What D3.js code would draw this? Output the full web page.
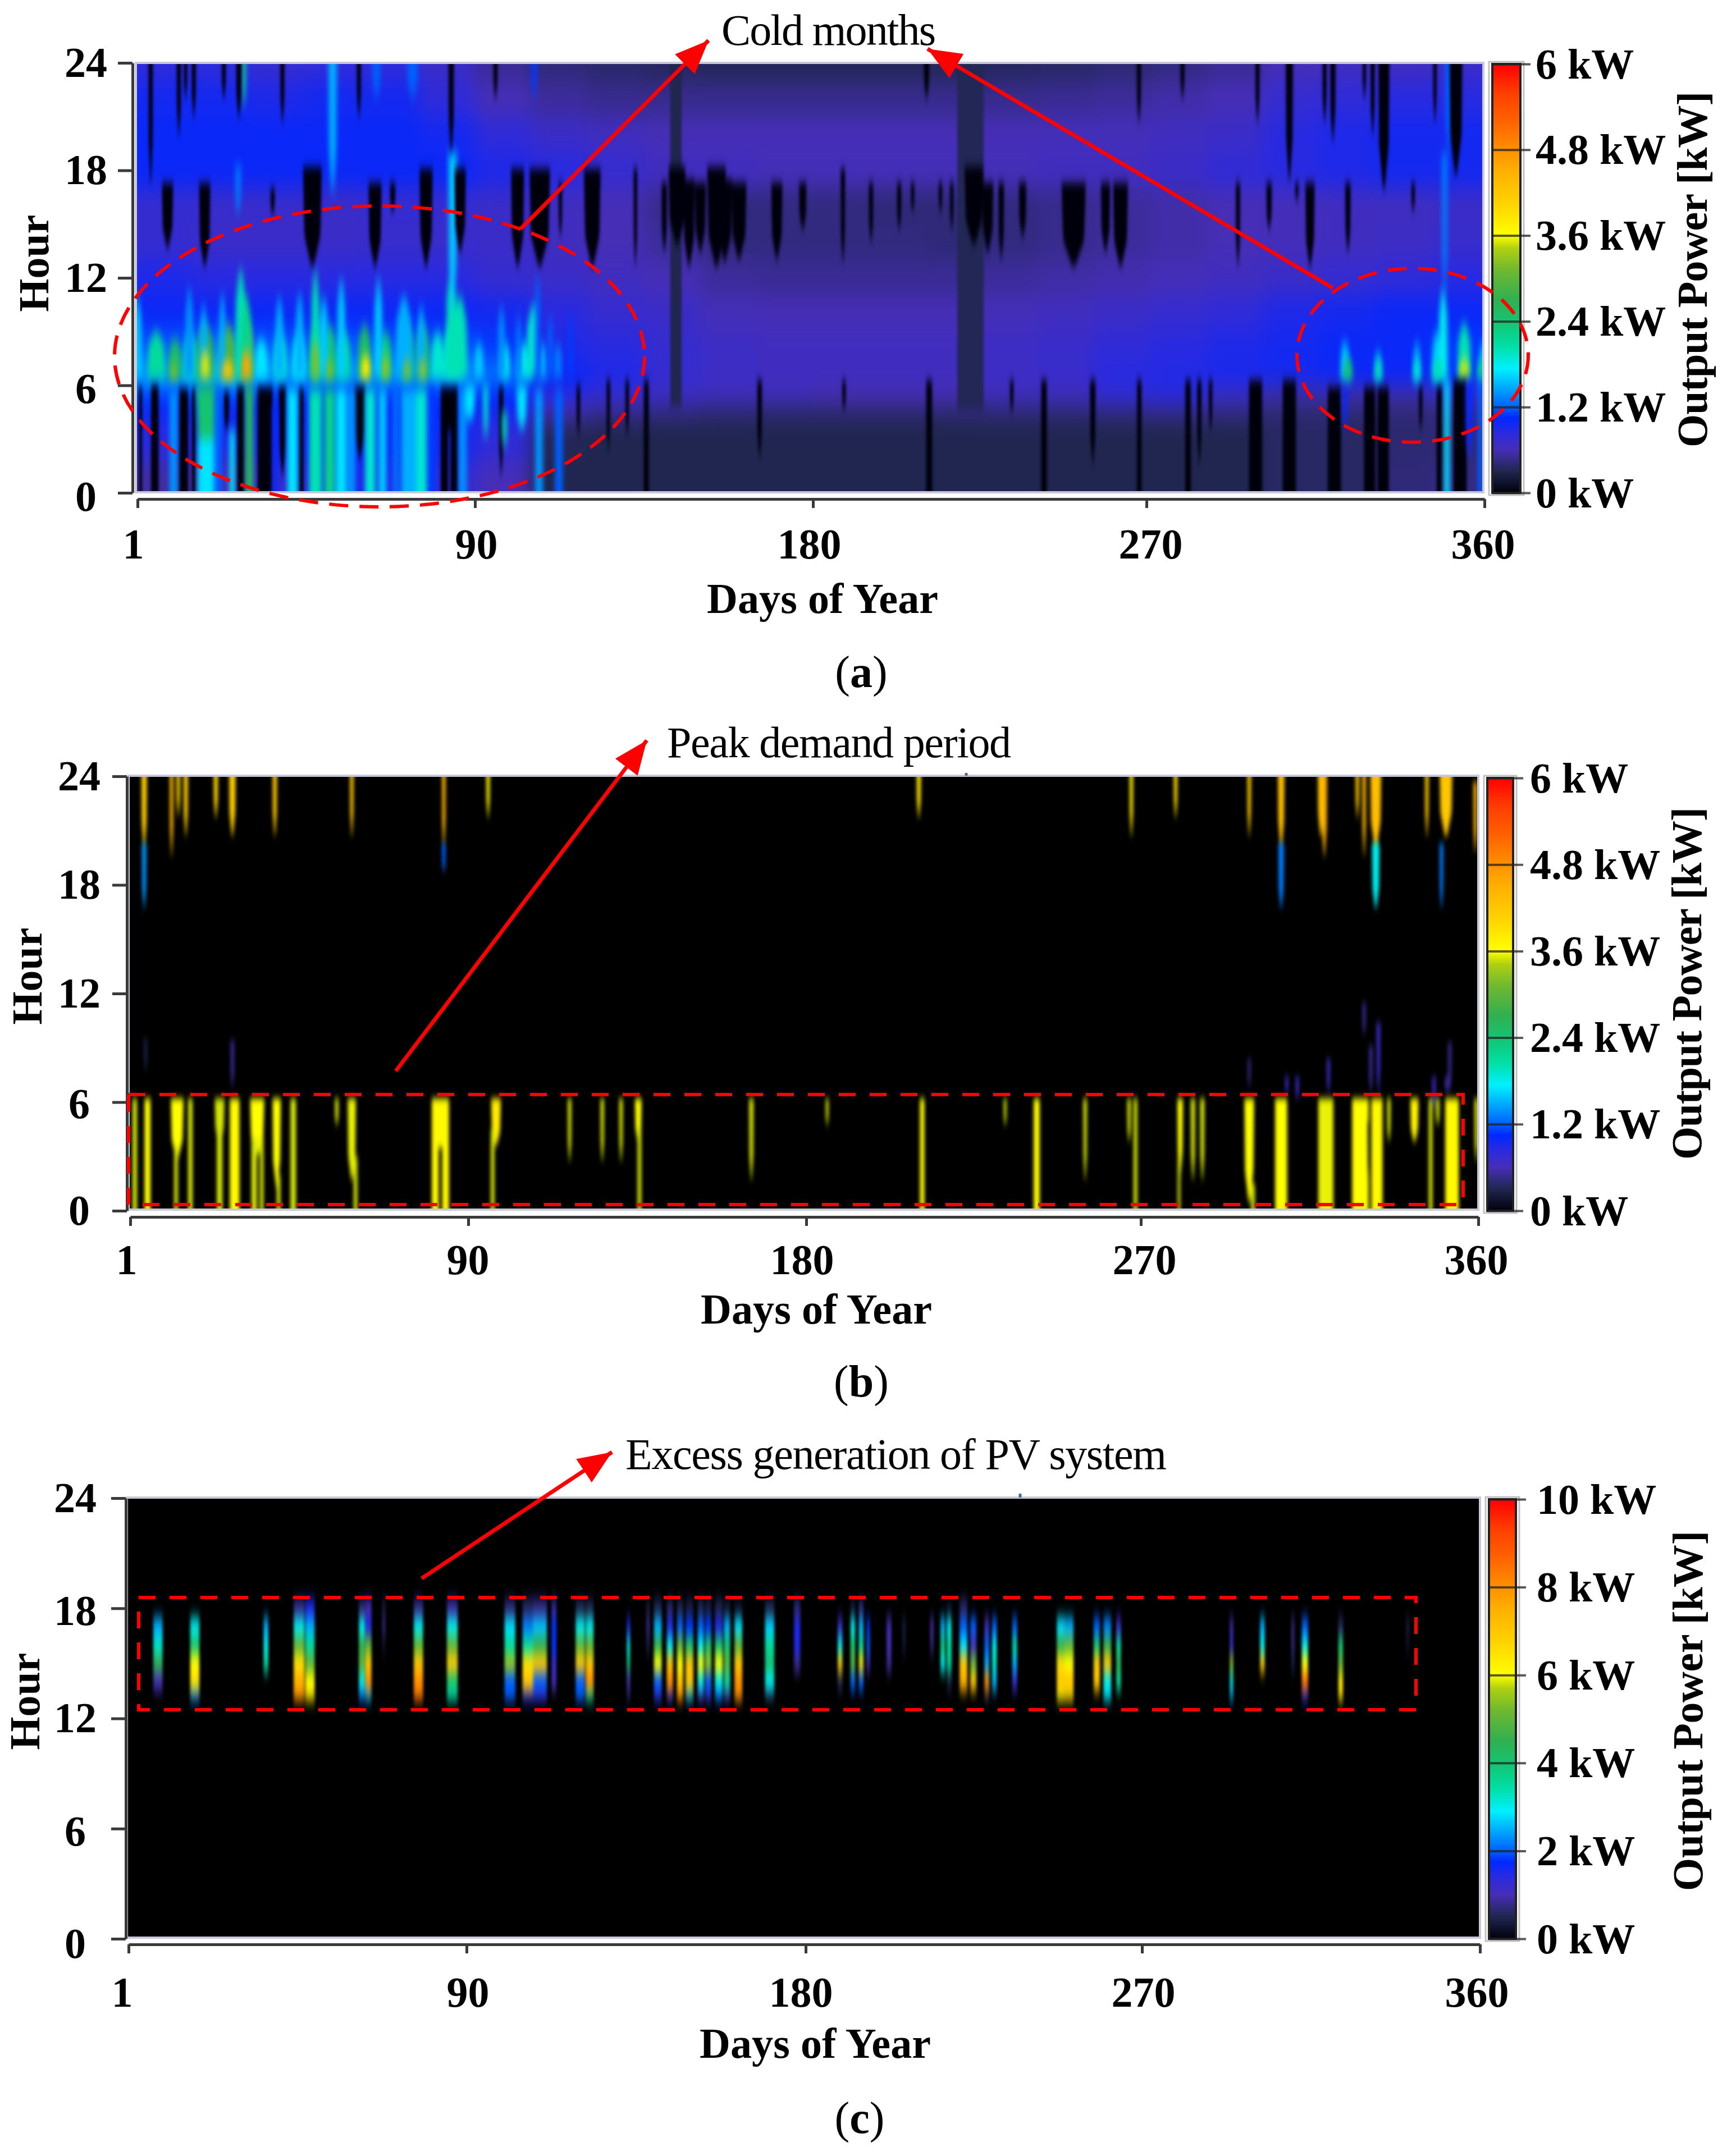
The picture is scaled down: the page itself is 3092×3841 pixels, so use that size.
<!DOCTYPE html>
<html>
<head>
<meta charset="utf-8">
<script src="https://cdnjs.cloudflare.com/ajax/libs/d3/7.8.5/d3.min.js"></script>
<style>
  html, body { margin: 0; background: #fff; }
  text { font-family: "Liberation Serif", serif; fill: #000; }
</style>
</head>
<body>
<div id="chart"></div>
<script>
// tick labels
const dayTicks = [1, 90, 180, 270, 360];
const hourTicks = [0, 6, 12, 18, 24];
const powerTicksAB = [0, 1.2, 2.4, 3.6, 4.8, 6];
const powerTicksC = [0, 2, 4, 6, 8, 10];

// colour bar, position 0..1 -> colour
const barStops = [0, 0.05, 0.1, 0.14, 0.175, 0.2, 0.24, 0.29, 0.34, 0.39, 0.45, 0.52, 0.57, 0.6, 0.68, 0.75, 0.8, 0.87, 0.93, 1];
const barColors = ["#00000c", "#20264f", "#462eb6", "#2a2ae0", "#0028ff", "#0060ff", "#00a0ff", "#00f0ff", "#00e0a8", "#10c878",
  "#30b050", "#70b830", "#b0d010", "#ffff00", "#ffd000", "#ffb000", "#ff9000", "#ff6000", "#ff4000", "#ff0000"];

// (a) background level in kW, rows = hours, columns = 15 day bins
const aBaseHours = [24, 22, 20, 18, 16, 14, 12, 10, 8, 6.5, 5.5, 4.5, 3.5, 0];
const aBaseDays = [1, 16, 31, 46, 61, 76, 91, 106, 121, 136, 151, 166, 181, 196, 211, 226, 241, 256, 271, 286, 301, 316, 331, 346, 361];
const aBase = [
  [.8, .8, .75, .8, .8, .7, .5, .42, .38, .34, .32, .32, .32, .32, .32, .34, .36, .4, .44, .5, .6, .65, .65, .7],
  [.95, .95, .9, .95, .95, .8, .6, .52, .48, .48, .48, .48, .48, .48, .48, .48, .5, .52, .56, .6, .75, .8, .85, .85],
  [1, 1, 1, 1, 1, .95, .8, .7, .65, .6, .6, .6, .6, .6, .6, .6, .62, .62, .65, .7, .85, .9, .95, .95],
  [1, 1, 1, 1, 1, 1, .9, .85, .75, .65, .65, .62, .62, .62, .62, .62, .65, .65, .7, .78, .85, .9, .95, .95],
  [.75, .72, .72, .7, .75, .75, .7, .65, .6, .48, .44, .44, .44, .42, .42, .44, .48, .52, .56, .6, .62, .65, .65, .7],
  [.75, .7, .7, .7, .72, .72, .7, .65, .6, .52, .44, .44, .44, .44, .42, .44, .48, .52, .56, .6, .62, .65, .68, .72],
  [.9, .85, .85, .85, .85, .85, .75, .7, .65, .6, .52, .5, .5, .5, .5, .52, .55, .58, .62, .65, .7, .75, .8, .85],
  [1, 1, 1, 1, 1, 1, .95, .85, .75, .7, .62, .6, .6, .6, .6, .62, .65, .7, .75, .8, .9, .95, 1, 1],
  [1.2, 1.3, 1.2, 1.2, 1.2, 1.2, 1.1, .9, .85, .75, .68, .65, .65, .65, .65, .68, .72, .8, .85, .9, .95, 1, 1, 1.1],
  [1.5, 1.7, 1.5, 1.5, 1.5, 1.5, 1.3, 1, .9, .75, .68, .65, .65, .65, .65, .68, .72, .85, .88, .92, .95, 1, 1, 1.1],
  [1.1, 1.1, 1.05, 1.05, 1.05, 1.05, 1.05, .85, .75, .7, .65, .65, .6, .6, .6, .65, .65, .8, .85, .7, .55, .58, .58, .7],
  [1, 1, 1, 1, 1, 1, .95, .58, .5, .45, .42, .4, .4, .4, .4, .42, .42, .45, .48, .45, .4, .4, .4, .45],
  [.85, .9, .95, 1, 1, .95, .8, .32, .3, .3, .3, .3, .3, .3, .3, .3, .3, .3, .3, .3, .36, .36, .4, .42],
  [.55, .6, .75, .9, .9, .8, .6, .3, .3, .3, .3, .3, .3, .3, .3, .3, .3, .3, .3, .3, .36, .36, .42, .45]
];

// streaks: [day, width in days, from hour (blunt end), to hour (thin end), kW]
const aNavy = [[144.5, 3, 24, 4.8, .3], [223, 7, 24, 4.6, .32]];
const aBand = [[6, 4, 6.4, 9, 2.1], [11, 3, 6.4, 8.6, 2.5], [15, 3, 6.4, 9, 2], [19, 4, 6.4, 9.4, 2.7], [25, 4, 6.4, 9.4, 2.9], [30, 3, 6.4, 9.6, 3.1],
  [34, 3, 6.4, 8.6, 1.7], [39, 3, 6.4, 9, 1.9], [44, 3, 6.4, 9, 1.8], [48.4, 2.5, 6.4, 9.4, 2.5], [52.2, 3, 6.4, 9.4, 2.4], [56, 3, 6.4, 9, 2.1],
  [61.5, 3, 6.4, 9.4, 2.5], [67, 3, 6.4, 9, 2.3], [72.8, 3, 6.4, 9.4, 2.4], [77, 3, 6.4, 9.4, 2.5], [81, 3, 6.4, 9, 1.9], [85, 4, 6.4, 9.6, 1.9],
  [92, 2, 6.4, 8.4, 1.6], [99, 2, 6.4, 8.4, 1.8], [104, 3, 6.4, 8.4, 1.8], [109, 2, 6.4, 8.4, 1.5], [113, 2, 6.4, 8.4, 1.3],
  [322.8, 2, 6.3, 8.5, 1.6], [331.7, 1.5, 6.3, 8, 1.5], [342, 1.5, 6.3, 8.5, 1.5], [347.2, 2, 6.3, 9, 1.6], [349, 2, 6.3, 11.5, 1.8], [354.6, 3, 6.3, 9.5, 2], [359.7, 1.5, 6.3, 8.5, 1.7]];
const aSpikes = [[1, 1.5, 6.5, 11, 1.6], [14.8, 1.5, 6.5, 11.5, 1.4], [18.6, 1.5, 6.5, 10.5, 1.5], [23.6, 1.2, 6.5, 11.2, 1.5], [28.5, 2, 6.5, 12.5, 2], [30, 2, 6.5, 11, 2.2],
  [38.8, 1.5, 6.5, 11, 1.5], [44.2, 1.5, 6.5, 11.2, 1.5], [48.4, 1.5, 6.5, 12.5, 2], [50.7, 1.5, 6.5, 11, 1.6], [55.3, 1.5, 6.5, 12, 1.6], [65.2, 1.5, 6.5, 12, 1.6],
  [72, 3, 6.5, 11, 1.5], [76.6, 1.5, 6.5, 10.5, 1.5], [84.7, 2, 6.5, 12.7, 2], [87, 2.5, 6.5, 11, 2], [98, 1.2, 6.5, 10.5, 1.4], [102.6, 1, 6.5, 10, 1.3],
  [106.5, 2.5, 6.5, 10.5, 1.9], [107.6, 1, 6.5, 12.5, 1.2], [111, 1, 6.5, 10, 1.2], [116.4, 1, 6.5, 10, 1.1],
  [53, 1.5, 24, 16.7, 1.5], [29.3, .8, 24, 21.5, 2.2], [85, 1.5, 19, 10, 1.6], [74.3, 2, 24, 22, 1.2], [64.7, 1.5, 24, 22, 1.2], [106.7, 1, 24, 22, 1.1], [27.8, 1, 18.3, 15.5, 1.3],
  [349.4, 1, 19, 11, 1.3], [350.6, 1.5, 24, 19, 1.2]];
const aPeaks = [[19, 2, 6.4, 8, 3.5], [25, 2.5, 6.4, 7.4, 4.2], [30, 2, 6.4, 8, 4.6], [10.6, 1.5, 6.4, 7.2, 3.2], [48.4, 1.5, 6.4, 8.5, 3.2], [52.2, 1.5, 6.4, 7.5, 3.2],
  [61.8, 2, 6.4, 7.7, 3.8], [67.1, 1.5, 6.4, 7.7, 3.3], [72.8, 1.5, 6.4, 7.5, 3.2], [77, 1.5, 6.4, 7.5, 3.3],
  [323.6, 2, 6.3, 7.5, 2.4], [331.7, 1.5, 6.3, 7.5, 2], [342, 1.5, 6.3, 7.5, 1.9], [347.5, 2, 6.3, 7.5, 2], [354.6, 2, 6.4, 7.5, 3.5], [359, 1.5, 6.3, 7.5, 2.2]];
const aDark = [
  [4.5, 1.2, 24, 17.3, 0], [12, 1.2, 24, 20, 0], [13.8, 1, 24, 22, 0], [16, 1.2, 24, 21, 0], [24, 1.2, 24, 22, 0], [28, 1.5, 24, 21, 0], [39.6, 1.2, 24, 20.7, 0], [60, 1.2, 24, 21, 0],
  [84.6, 1.5, 24, 19, 0], [96.4, 1.2, 24, 22, 0], [211.3, 1.5, 24, 22, 0], [267.9, 1.2, 24, 20.7, 0], [279.5, 1.2, 24, 22, 0], [299.5, 1.2, 24, 20.7, 0], [308, 2, 24, 17.5, 0],
  [317.4, 1.2, 24, 20.7, 0], [319.6, 1.5, 24, 19.7, 0], [328, 1, 24, 22, 0], [330.2, 1.2, 24, 20, 0], [333.2, 3, 24, 17, 0], [346.8, 1, 24, 20.7, 0], [352.4, 3.5, 24, 17.8, 0],
  [9, 3, 17.3, 13.7, 0], [18.9, 3, 17.3, 12.7, 0], [37, 1.2, 17, 15.5, 0], [47.6, 5, 18.2, 12.7, 0], [64.3, 3.5, 17.3, 12.7, 0], [69, 1.5, 17.3, 15.7, 0], [77.9, 3.5, 18.1, 12.7, 0],
  [87, 3, 18.1, 13.5, 0], [102.3, 3.5, 18.1, 12.7, 0], [108.2, 5.5, 18.1, 12.7, 0], [113.7, 1, 17.3, 14.3, 0], [122.2, 4.5, 18.1, 12.7, 0], [133.7, 1, 18.1, 12.7, 0],
  [141.4, 1.5, 17.3, 13.5, 0], [144.8, 4.5, 18.2, 13.9, 0], [148, 3, 17.5, 12.7, 0], [151, 3, 17.3, 13.5, 0], [155.3, 5, 18.2, 12.7, 0], [157.5, 4, 17.5, 13, 0], [161.3, 4, 17.3, 13.1, 0],
  [171.4, 3, 17.3, 13.1, 0], [178.3, 2, 17.3, 14.7, 0], [189, 1.2, 18.1, 12.9, 0], [196.5, 1.2, 17.3, 14, 0], [204, 1.2, 17.3, 14.7, 0], [207.6, 1, 17.3, 15.7, 0], [215, 1, 17.3, 15.7, 0],
  [218, 1, 17.3, 14.7, 0], [223.9, 5, 18.2, 13.9, 0], [227.6, 3, 17.3, 13.5, 0], [231.2, 1.5, 17.3, 13.1, 0], [236.9, 2, 17.3, 14.3, 0], [250.5, 6.5, 17.3, 12.7, 0], [259, 2.5, 17.3, 13.5, 0],
  [263, 4, 17.3, 12.7, 0], [294.3, 1.2, 17.3, 12.7, 0], [302.6, 1.5, 17.3, 14.7, 0], [310, 1, 17.3, 16.3, 0], [313.5, 2.5, 17.3, 12.7, 0], [323.6, 1.5, 17.3, 13.5, 0], [341, 1, 17.3, 15.7, 0],
  [1.8, .8, 5.9, 0, 0], [5.6, 2, 6, 0, 0], [13.25, 2.5, 5.8, 0, 0], [16, 1, 5.8, 0, 0], [24.7, 1.5, 5.6, 3.5, 0], [28.5, 2, 5.9, 0, 0], [35, 4, 5.9, 0, 0], [39.6, 2, 5.9, 1, 0], [44.6, 1.2, 5.8, 0, 0],
  [60.2, 3, 5.9, 2, 0], [82.8, 2, 5.9, 0, 0], [85.4, 2, 5.9, 0, 0], [84, 4.5, 5.9, 3.5, 0], [97.9, 1.2, 5.9, 1, 0], [118.5, 1, 6, 3.2, 0], [126.5, 1, 6.3, 2.4, 0], [131.5, 1, 6.3, 3.2, 0],
  [136.6, 1.3, 6.3, 0, 0], [166.8, 1.3, 6.3, 2, 0], [189.3, 1, 6.3, 4.6, 0], [212, 1.6, 6.3, 0, 0], [234, 1, 6.3, 4.5, 0], [242.6, 1.5, 6.3, 0, 0], [255.6, 1.5, 6.3, 1.7, 0], [268, 1.2, 6.3, 0, 0],
  [281, 1.5, 6.3, 0, 0], [284, 1.2, 6.3, 1.7, 0], [287, 1, 6.3, 3.5, 0], [299, 3.5, 6.3, 0, 0], [308, 3.5, 6.3, 0, 0], [320, 3.5, 5.9, 0, 0], [329.4, 3, 5.9, 0, 0], [333, 3, 5.9, 0, 0],
  [343, 1, 5.9, 3.5, 0], [348, 1.5, 5.9, 0, 0], [353.5, 3.5, 6.3, 0, 0]];
const aLower = [[10.6, 1.5, 5.7, 0, 1.4], [19.4, 4, 6, 2, 2.4], [19.4, 3.5, 3, 0, 1.7], [22.4, 1.5, 5.8, 0, 1.2], [26.2, 1, 3.5, 0, 1.8], [30.8, 1.5, 6, 0, 2.6], [37.7, 1, 5, 0, 1],
  [42.3, 2, 5.8, 0, 1.7], [48.4, 2.5, 5.8, 0, 2], [52.2, 2, 5.8, 0, 2.2], [55.3, 2, 5.8, 0, 1.7], [58, 1.5, 5.8, 0, 1.4], [63, 2, 5.8, 0, 1.9], [66.3, 1.5, 5.8, 0, 1.6], [69.8, 1, 5.8, 0, 1.3],
  [74.7, 5, 5.8, 0, 1.5], [76.7, 2, 5.8, 0, 1.9], [79.3, 1.5, 5.8, 0, 1.1], [87.7, 1.5, 5.8, 0, 1.4], [89.6, 2, 6, 4, 1.7], [93.8, 1, 6, 3, 1.9], [98.8, 1, 4.5, 2.5, 2], [103.4, 2, 6, 3.5, 1.7],
  [108, 1.5, 5.8, 0, 1.4], [113.3, 1.5, 5.8, 0, 1.2], [350, 1, 6.3, 0, 1.7], [359, 1, 6.3, 0, 1.2], [322.8, 1, 6, 3.5, 1], [356, 1.5, 6.3, 2, 1]];

// (b) streaks
const bStreaks = [
  [4.7, 1.5, 24, 20, 4.1], [4.7, 1.2, 20.3, 16.7, 1.4], [12, 1, 24, 19.6, 4.4], [13.8, 1, 24, 21.8, 4], [15.8, 1.2, 24, 20.7, 4.1], [23.8, 1.2, 24, 21.7, 4], [28.2, 1.8, 24, 20.7, 4.1],
  [39.5, 1.2, 24, 20.7, 4.2], [60, 1, 24, 20.7, 4.2], [84.5, 1, 24, 20, 4.4], [84.5, 1, 20.3, 18.7, 1.2], [96.3, 1, 24, 21.7, 3.7], [211, 1.2, 24, 21.7, 3.9], [267.6, 1, 24, 20.7, 3.8],
  [279.4, 1, 24, 21.7, 3.9], [299, 1, 24, 20.7, 4.1], [307.5, 1.8, 24, 20, 4.3], [307.5, 1.5, 20.3, 16.7, 1.3], [318, 1.5, 24, 20.7, 4.2], [319, 1.5, 24, 19.6, 4.5], [327.8, 1, 24, 21.7, 4.2],
  [329.6, 1, 24, 19.6, 4.4], [332.7, 3, 24, 20, 4.3], [332.7, 2, 20.3, 16.7, 1.8], [346.3, 1, 24, 20.7, 4.2], [351.4, 3.5, 24, 20.7, 4.2], [350.2, 1, 20.3, 16.7, 1.3], [359.2, 1, 23.7, 19.8, 4.4],
  [5.1, .8, 9.5, 7.7, .3], [28.2, 1, 9.4, 6.8, .5], [329.6, .9, 11.5, 9.7, .5], [333.4, 1, 10.4, 6.5, .7], [331.4, 1, 9.1, 6.5, .5], [299, .8, 8.4, 6.8, .45], [309, .9, 7.4, 6.5, .7], [311.8, .9, 7.4, 6.1, .7],
  [320.1, .9, 8.4, 6.5, .7], [352.4, .9, 9.3, 6.5, .5], [348.2, .9, 7.4, 5.6, .7], [351.6, .9, 7.4, 6.5, .6],
  [2.2, 1.2, 6.2, 0, 3.5], [5.6, 1.6, 6.2, 0, 3.6], [13.5, 3.4, 6.2, 2.9, 3.6], [13.2, 1, 3.5, 0, 3.5], [17, 1.2, 6.2, 0, 3.5], [24.8, 2.6, 6.2, 3.8, 3.5], [24.8, 1.5, 4.5, 0, 3.5], [28.8, 2.6, 6.2, 0, 3.65],
  [34.8, 3.8, 6.2, 3.1, 3.6], [34, 1.5, 4, 0, 3.5], [36, 1, 4, 0, 3.5], [40, 2.2, 6.2, 1.3, 3.6], [40.5, 1, 2, 0, 3.5], [44.4, 1.5, 6.2, 0, 3.5], [56, 1, 6.2, 4.7, 3.5], [60, 2.2, 6.2, 1.7, 3.55],
  [61, 1, 3, 0, 3.5], [83.6, 4.6, 6.2, 0, 3.65], [83.6, .9, 3.5, 0, 0], [98.4, 2.6, 6.2, 3.6, 3.8], [97.5, 1, 4.5, 0, 3.5], [118, 1, 6.2, 2.7, 3.5], [126.7, 1, 6.2, 2.7, 3.5], [131.7, 1, 6.2, 2.7, 3.5], [136.3, 1.8, 6.2, 3.8, 3.6],
  [136.6, 1, 4.5, 0, 3.5], [166.4, 1.2, 6.2, 1.7, 3.5], [186.6, .8, 6.2, 4.7, 3.5], [211.9, 1.2, 6.2, 0, 3.6], [234, .8, 6.2, 4.7, 3.5], [242.4, 1.6, 6.2, 0, 3.6], [255.3, 1, 6.2, 1.7, 3.5],
  [267, 1, 6.2, 3.8, 3.5], [268.7, 1, 6.2, 0, 3.5], [280.6, 1.5, 6.2, 2, 3.6], [280.3, .7, 3, 0, 3.5], [284, 1.2, 6.2, 1.7, 3.5], [286.5, 1.2, 6.2, 1.7, 3.5], [299, 2.6, 6.2, .5, 3.6], [300, 1, 1.5, 0, 3.5],
  [307.5, 3.2, 6.2, 0, 3.6], [319.4, 4, 6.2, 0, 3.55], [328.6, 4.4, 6.2, 0, 3.6], [333, 3, 6.2, 0, 3.65], [331, .9, 4.9, 1.5, 0], [336.2, 1, 6.2, 3.8, 3.5], [343, 2.2, 6.2, 3.8, 3.7], [347.3, 1, 6.2, 0, 3.5],
  [349.2, 1, 6.2, 4.7, 3.5], [353, 3.6, 6.2, 0, 3.65], [359.5, 1, 6.2, 2.7, 3.55]];

// (c) columns: day, width, then kW at hours 18, 17, 16, 15, 14, 13
const cHours = [18, 17, 16, 15, 14, 13];
const cColumns = [
  [8.8, 3, 0, 2.5, 3.2, 4.5, 1, 0], [18.6, 3, 0, 3, 4, 6, 6.5, 2.2], [37.5, 1.5, 0, 2.5, 3, 3.5, 0, 0], [46.3, 3.5, .8, 3, 5, 6.5, 7.5, 8], [49.2, 3, 1.5, 2.5, 3.5, 5, 6, 6.5],
  [63, 2, .7, 3, 4.5, 5, 3, 2], [64.7, 2, 1, 1.5, 5, 7, 8, 2.5], [68.8, 1, .4, .7, .2, 0, 0, 0], [78, 3, .8, 3, 5, 7, 8, 8.5], [87, 3.5, .9, 3, 5, 7, 4, 3.3],
  [102.3, 3.5, .7, 2.8, 3.5, 5.5, 2, 2], [107.3, 4, .6, 2.2, 3.5, 6.5, 7, 1.5], [110.3, 4.5, .8, 2.6, 4.5, 7, 2, 1.3], [114, 1.5, .9, 1.8, 1.8, 1.2, 1, 0], [121, 3, .5, 3, 5, 7, 2, 2],
  [123.5, 2.5, .5, 3, 5, 7, 8, 3.5], [133.8, 1, 0, 1.5, 3, 4, 1, .5], [139, 1, .4, .8, .4, 0, 0, 0], [141.6, 2.5, .5, 2.5, 4.5, 6, 2, 1.3], [144.8, 2, .6, 1.5, 3, 7, 8, 1.2],
  [147.5, 2, .5, 2, 5, 6, 7, 8], [150, 2.5, .4, 1.8, 4, 7, 7, 2.5], [153, 2, .5, 2, 3, 6, 3, 1.2], [155, 2, .4, 1.8, 4, 5.5, 2, 1.2], [157.8, 2.5, .5, 1.5, 4, 6, 3, 2],
  [160, 2, .3, 2.5, 4, 5, 3.5, 1], [163, 2.5, .2, 2.8, 5, 7, 8, 8], [171.3, 3, .5, 2.7, 3.5, 4, 3, .5], [178.6, 2, .7, 1.5, 1.5, .8, 0, 0], [190, 1.5, 0, 1.2, 3, 7, .5, 0],
  [193.4, 1.5, .3, 3, 4, 5, 2, 0], [195.6, 1.5, .7, 2.5, 3.5, 6.5, 2, 0], [197.5, 1, 0, 1.8, 2, 1, 0, 0], [203, 1.5, 0, 1, 1, .8, 0, 0], [207, 1, 0, .4, .3, 0, 0, 0],
  [214.4, 1, 0, 1, .7, 0, 0, 0], [217.3, 1.5, 0, 2.5, 4, 3, 0, 0], [219, 1.5, .2, 3, 3.5, 3.5, .4, 0], [222.8, 2.5, .6, 2, 2.8, 7, 7.5, 0], [225.4, 2, 0, 2, 1, 5, 7, 0],
  [229, 1.5, 0, 1, 2, 2.5, 8, .5], [231, 1.5, 0, 2, 3, 3.3, 2.5, 0], [236.4, 1.5, 0, 2, 3.5, 2.5, 1.2, 0], [248.6, 2.5, 0, 2.8, 4.5, 6.5, 7, 6], [250.8, 3, 0, 2.5, 5, 6, 7, 6.5],
  [258.2, 2, 0, 2, 4, 7, 7, 0], [261, 2.5, 0, 2.2, 4.5, 7, 3, 2.8], [264, 1.5, 0, 1.2, 3.5, 4.5, 3.5, 0], [294, 1, 0, 1, 1.3, 5.5, 3, 2.5], [302.2, 1.5, 0, 2.5, 3, 7, 0, 0],
  [310.3, 1, 0, .7, .7, .4, 0, 0], [313.5, 2, 0, 2, 3, 6, 8.5, 1.5], [323, 1.5, 0, .6, 4, 5, 6.5, 6.5], [340.8, 1, 0, .4, .2, 0, 0, 0]];

const FONT = 76;
const width = 3092, height = 3841;
const svg = d3.select("#chart").append("svg").attr("width", width).attr("height", height)
  .style("display", "block");
const defs = svg.append("defs");

const addBlur = (id, sx, sy) => {
  defs.append("filter").attr("id", id)
    .attr("filterUnits", "userSpaceOnUse").attr("x", 0).attr("y", 0).attr("width", width).attr("height", height)
    .attr("color-interpolation-filters", "sRGB")
    .append("feGaussianBlur").attr("stdDeviation", sx + " " + sy);
};
addBlur("blurBase", 16, 20);
addBlur("blurNavy", 2, 8);
addBlur("blurMarks", 4.5, 11);
addBlur("blurDark", 2.8, 9);
addBlur("blurB", 3, 7);
addBlur("blurCols", 2.6, 13);

const barGradient = defs.append("linearGradient").attr("id", "barGradient").attr("x1", 0).attr("x2", 0).attr("y1", 1).attr("y2", 0);
barStops.forEach((s, i) => barGradient.append("stop").attr("offset", s).attr("stop-color", barColors[i]));

const marker = defs.append("marker").attr("id", "arrowHead").attr("markerUnits", "userSpaceOnUse")
  .attr("markerWidth", 64).attr("markerHeight", 50).attr("refX", 60).attr("refY", 25).attr("orient", "auto");
marker.append("path").attr("d", "M0,0L60,25L0,50Z").attr("fill", "#ff0000");

const streakPath = (xScale, yScale, blunt, grow) => {
  // mostly full width, then narrows towards the thin end
  return s => {
    const [day, w, from, to] = s;
    const half = w / 2 * grow;
    const taper = !blunt && to > 0 && to < 24;
    const f = from >= 24 ? 25 : from;
    const e = to <= 0 ? -1 : to >= 24 ? 25 : to;
    const prof = taper ? [[f, 1], [f + (e - f) * 0.7, 0.85], [e, 0.15]] : [[f, 1], [e, 1]];
    return d3.area().x0(p => xScale(day - half * p[1])).x1(p => xScale(day + half * p[1])).y(p => yScale(p[0]))(prof);
  };
};

const drawPanel = p => {
  const g = svg.append("g");
  const xDay = d3.scaleLinear().domain([1, 360]).range(p.dayRange);
  const yHour = d3.scaleLinear().domain([0, 24]).range([p.y0, p.y24]);
  const xTick = d3.scaleLinear().domain(dayTicks).range(p.tickX);
  const color = d3.scaleLinear().domain(barStops.map(s => s * p.max)).range(barColors).clamp(true);

  const clipId = "clip" + p.name;
  defs.append("clipPath").attr("id", clipId).append("rect")
    .attr("x", p.left).attr("y", p.top).attr("width", p.right - p.left).attr("height", p.bottom - p.top);
  const plot = g.append("g").attr("clip-path", `url(#${clipId})`);
  plot.append("rect").attr("x", p.left).attr("y", p.top).attr("width", p.right - p.left).attr("height", p.bottom - p.top)
    .attr("fill", p.bg);

  p.draw(plot, xDay, yHour, color);

  g.append("rect").attr("x", p.left).attr("y", p.top).attr("width", p.right - p.left).attr("height", p.bottom - p.top)
    .attr("fill", "none").attr("stroke", "#c8c8d8").attr("stroke-width", 4);

  // hour axis
  const yAxis = g.append("g").attr("transform", `translate(${p.axisX},0)`)
    .call(d3.axisLeft(yHour).tickValues(hourTicks).tickSize(26).tickSizeOuter(0));
  yAxis.select(".domain").attr("stroke", "#3a3a3a").attr("stroke-width", 5);
  yAxis.selectAll(".tick line").attr("stroke", "#3a3a3a").attr("stroke-width", 5);
  yAxis.selectAll("text").attr("x", p.hourLabelX - p.axisX).attr("text-anchor", "middle")
    .attr("y", (d, i) => p.hourLabelDy[i])
    .style("font", `bold ${FONT}px "Liberation Serif"`).attr("fill", "#000");

  // day axis
  const xAxis = g.append("g").attr("transform", `translate(0,${p.axisY})`)
    .call(d3.axisBottom(xTick).tickValues(dayTicks).tickSize(16).tickSizeOuter(0));
  xAxis.select(".domain").attr("stroke", "#3a3a3a").attr("stroke-width", 5);
  xAxis.selectAll(".tick line").attr("stroke", "#3a3a3a").attr("stroke-width", 5);
  xAxis.selectAll("text").attr("x", (d, i) => p.dayLabelX[i] - xTick(d)).attr("y", p.dayLabelY - p.axisY).attr("dy", 0)
    .style("font", `bold ${FONT}px "Liberation Serif"`).attr("fill", "#000");

  // colour bar
  g.append("rect").attr("x", p.barX).attr("y", p.barTop).attr("width", p.barW).attr("height", p.barBottom - p.barTop)
    .attr("fill", "url(#barGradient)").attr("stroke", "#222").attr("stroke-width", 4);
  g.append("rect").attr("x", p.barX - 6).attr("y", p.barTop - 4).attr("width", p.barW + 12).attr("height", p.barBottom - p.barTop + 8)
    .attr("fill", "none").attr("stroke", "#999").attr("stroke-width", 3).attr("opacity", 0.6);
  const yBar = d3.scaleLinear().domain([0, p.max]).range([p.barBottom, p.barTop]);
  const barAxis = g.append("g").attr("transform", `translate(${p.barX},0)`)
    .call(d3.axisRight(yBar).tickValues(p.powerTicks).tickSize(p.barW + 18).tickSizeOuter(0).tickFormat(d => d + " kW"));
  barAxis.select(".domain").remove();
  barAxis.selectAll(".tick line").attr("stroke", "#222").attr("stroke-width", 4).attr("opacity", 0.75);
  barAxis.selectAll("text").attr("x", p.barLabelX - p.barX).attr("dy", "0.33em").attr("text-anchor", "start")
    .style("font", `bold ${FONT}px "Liberation Serif"`).attr("fill", "#000");

  // titles
  g.append("text").attr("transform", `translate(${p.hourTitle[0]},${p.hourTitle[1]}) rotate(-90)`).attr("text-anchor", "middle")
    .attr("font-weight", "bold").attr("font-size", FONT).text("Hour");
  g.append("text").attr("x", p.dayTitle[0]).attr("y", p.dayTitle[1]).attr("text-anchor", "middle")
    .attr("font-weight", "bold").attr("font-size", FONT).attr("textLength", 412).text("Days of Year");
  g.append("text").attr("transform", `translate(${p.powerTitle[0]},${p.powerTitle[1]}) rotate(-90)`).attr("text-anchor", "middle")
    .attr("font-weight", "bold").attr("font-size", FONT).attr("textLength", p.powerTitle[2]).text("Output Power [kW]");
  const cap = g.append("text").attr("x", p.caption[0]).attr("y", p.caption[1]).attr("text-anchor", "middle").attr("font-size", 80);
  cap.append("tspan").text("(");
  cap.append("tspan").attr("font-weight", "bold").text(p.name);
  cap.append("tspan").text(")");

  // red annotations
  g.append("text").attr("x", p.note[1]).attr("y", p.note[2]).attr("font-size", 78).attr("textLength", p.note[3]).text(p.note[0]);
  const red = g.append("g").attr("fill", "none").attr("stroke", "#ff0000").attr("stroke-width", 6);
  (p.ellipses || []).forEach(e => red.append("ellipse").attr("cx", e[0]).attr("cy", e[1]).attr("rx", e[2]).attr("ry", e[3]).attr("stroke-dasharray", "34 20"));
  (p.boxes || []).forEach(b => red.append("rect").attr("x", b[0]).attr("y", b[1]).attr("width", b[2] - b[0]).attr("height", b[3] - b[1]).attr("stroke-dasharray", "30 25"));
  p.arrows.forEach(a => g.append("line").attr("x1", a[0]).attr("y1", a[1]).attr("x2", a[2]).attr("y2", a[3])
    .attr("stroke", "#ff0000").attr("stroke-width", 7).attr("marker-end", "url(#arrowHead)"));

  // small stray mark poking out of the plot top
  if (p.speck) {
    g.append("line").attr("x1", p.speck[0]).attr("x2", p.speck[0]).attr("y1", p.speck[1]).attr("y2", p.top)
      .attr("stroke", "#4a6a8a").attr("stroke-width", 5);
  }
};

const streakLayer = (plot, list, xDay, yHour, color, filter, blunt = false, grow = 1) => {
  const path = streakPath(xDay, yHour, blunt, grow);
  plot.append("g").attr("filter", `url(#${filter})`)
    .selectAll("path").data(list).join("path")
    .attr("d", path).attr("fill", d => color(d[4]));
};

drawPanel({
  name: "a", max: 6, powerTicks: powerTicksAB, bg: "#3a2cc0",
  left: 242, right: 2642, top: 112, bottom: 877, y0: 878, y24: 112, dayRange: [245, 2644],
  tickX: [245, 846, 1448, 2042, 2644], axisX: 236, axisY: 889,
  hourLabelX: 153, hourLabelDy: [7, 7, 0, 0, 0], dayLabelX: [237, 848, 1441, 2049, 2641], dayLabelY: 995,
  barX: 2658, barW: 50, barTop: 114, barBottom: 878, barLabelX: 2735,
  hourTitle: [86, 469], dayTitle: [1465, 1092], powerTitle: [3040, 480, 634], caption: [1534, 1224],
  note: ["Cold months", 1285, 80, 382],
  ellipses: [[676, 635, 472, 268], [2516, 633, 206, 155]],
  arrows: [[927, 408, 1262, 72], [2374, 513, 1652, 87]],
  draw: (plot, xDay, yHour, color) => {
    // background grid, outer cells run past the plot so the blur keeps the edge colours
    const yEdge = i => i === 0 ? 30 : i === aBaseHours.length ? -6 : (aBaseHours[i - 1] + aBaseHours[i]) / 2;
    const xEdge = j => j === 0 ? -30 : j === aBaseDays.length - 1 ? 390 : aBaseDays[j];
    const cells = aBase.flatMap((row, i) => row.map((v, j) => ({ i, j, v })));
    plot.append("g").attr("filter", "url(#blurBase)")
      .selectAll("rect").data(cells).join("rect")
      .attr("x", d => xDay(xEdge(d.j))).attr("y", d => yHour(yEdge(d.i)))
      .attr("width", d => xDay(xEdge(d.j + 1)) - xDay(xEdge(d.j)) + 1)
      .attr("height", d => yHour(yEdge(d.i + 1)) - yHour(yEdge(d.i)) + 1)
      .attr("fill", d => color(d.v));
    streakLayer(plot, aNavy, xDay, yHour, color, "blurNavy", true);
    streakLayer(plot, aBand, xDay, yHour, color, "blurMarks", false, 1.2);
    streakLayer(plot, aSpikes, xDay, yHour, color, "blurMarks", false, 1.5);
    streakLayer(plot, aPeaks, xDay, yHour, color, "blurMarks", false, 1.3);
    streakLayer(plot, aDark, xDay, yHour, color, "blurDark");
    streakLayer(plot, aLower, xDay, yHour, color, "blurMarks", false, 1.35);
  }
});

drawPanel({
  name: "b", max: 6, powerTicks: powerTicksAB, bg: "#000",
  left: 229, right: 2633, top: 1382, bottom: 2155, y0: 2157, y24: 1383, dayRange: [232, 2633],
  tickX: [232, 834, 1436, 2032, 2633], axisX: 226, axisY: 2168,
  hourLabelX: 141, hourLabelDy: [0, 4, 0, 0, 0], dayLabelX: [225, 833, 1428, 2038, 2629], dayLabelY: 2270,
  barX: 2649, barW: 46, barTop: 1386, barBottom: 2157, barLabelX: 2725,
  hourTitle: [74, 1739], dayTitle: [1454, 2358], powerTitle: [3030, 1752, 628], caption: [1534, 2488],
  note: ["Peak demand period", 1188, 1349, 613],
  boxes: [[229, 1950, 2606, 2146]],
  arrows: [[705, 1908, 1152, 1319]],
  speck: [1721, 1377],
  draw: (plot, xDay, yHour, color) => {
    streakLayer(plot, bStreaks, xDay, yHour, color, "blurB");
  }
});

drawPanel({
  name: "c", max: 10, powerTicks: powerTicksC, bg: "#000",
  left: 226, right: 2636, top: 2668, bottom: 3452, y0: 3454, y24: 2669, dayRange: [229, 2636],
  tickX: [229, 831, 1435, 2034, 2636], axisX: 224, axisY: 3464,
  hourLabelX: 134, hourLabelDy: [9, 5, 0, 5, 0], dayLabelX: [217, 833, 1426, 2036, 2630], dayLabelY: 3575,
  barX: 2652, barW: 48, barTop: 2671, barBottom: 3454, barLabelX: 2737,
  hourTitle: [70, 3031], dayTitle: [1452, 3666], powerTitle: [3032, 3048, 642], caption: [1531, 3800],
  note: ["Excess generation of PV system", 1114, 2617, 964],
  boxes: [[247, 2846, 2522, 3046]],
  arrows: [[751, 2812, 1090, 2587]],
  speck: [1817, 2661],
  draw: (plot, xDay, yHour, color) => {
    const cells = cColumns.flatMap(c => cHours.map((h, i) => ({ day: c[0], w: c[1] * 0.82, h, v: c[i + 2] })))
      .filter(d => d.v > 0);
    plot.append("g").attr("filter", "url(#blurCols)")
      .selectAll("rect").data(cells).join("rect")
      .attr("x", d => xDay(d.day - d.w / 2)).attr("width", d => xDay(d.day + d.w / 2) - xDay(d.day - d.w / 2))
      .attr("y", d => yHour(d.h + 0.5)).attr("height", d => yHour(Math.max(d.h - 0.5, 13)) - yHour(d.h + 0.5))
      .attr("fill", d => color(d.v));
  }
});
</script>
</body>
</html>
